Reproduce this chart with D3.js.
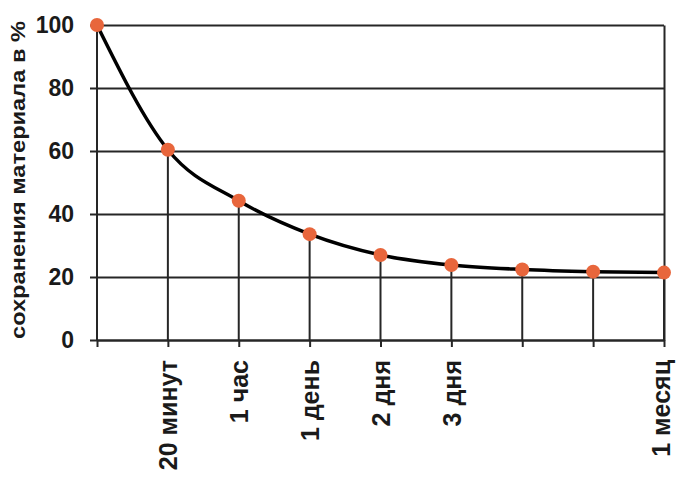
<!DOCTYPE html>
<html>
<head>
<meta charset="utf-8">
<script src="https://cdn.jsdelivr.net/npm/d3@7"></script>
<style>
  body { margin: 0; background: #fff; }
  svg { display: block; font-family: "Liberation Sans", Arial, sans-serif; }
</style>
</head>
<body>
<svg id="chart" width="677" height="480"></svg>
<script>
const categories = ["", "20 минут", "1 час", "1 день", "2 дня", "3 дня", "", "", "1 месяц"];
const retention = [100, 60.4, 44.2, 33.6, 27.0, 23.8, 22.4, 21.7, 21.4];
const yTicks = [0, 20, 40, 60, 80, 100];
const yLabel = "сохранения материала в %";

const svg = d3.select("#chart");
const mLeft = 97, mRight = 664, mTop = 25, mBottom = 340;

const x = d3.scaleLinear().domain([0, categories.length - 1]).range([mLeft, mRight]);
const y = d3.scaleLinear().domain([0, 100]).range([mBottom, mTop]);

const gridColor = "#262626";

// horizontal grid + y labels (axis anchored on right border)
const yAxis = svg.append("g")
  .attr("transform", `translate(${mRight},0)`)
  .call(d3.axisLeft(y).tickValues(yTicks).tickSize(mRight - mLeft + 7).tickSizeOuter(0).tickPadding(16));
yAxis.select(".domain").attr("stroke", gridColor).attr("stroke-width", 2);
yAxis.selectAll(".tick line").attr("stroke", gridColor).attr("stroke-width", 2);
yAxis.selectAll(".tick text")
  .attr("fill", "#1a1a1a")
  .style("font-size", "23px")
  .style("font-weight", "bold");

// x axis
const xAxis = svg.append("g")
  .attr("transform", `translate(0,${mBottom})`)
  .call(d3.axisBottom(x).tickValues(d3.range(categories.length)).tickFormat(i => categories[i]).tickSize(7).tickSizeOuter(0).tickPadding(10));
xAxis.select(".domain").attr("stroke", gridColor).attr("stroke-width", 2);
xAxis.selectAll(".tick line").attr("stroke", gridColor).attr("stroke-width", 2);
xAxis.selectAll(".tick text")
  .attr("fill", "#1a1a1a")
  .style("font-size", "25px")
  .style("font-weight", "bold")
  .attr("text-anchor", "end")
  .attr("dy", "0.36em")
  .attr("transform", "rotate(-90)")
  .attr("x", -20)
  .attr("y", (d, i) => i === categories.length - 1 ? -4 : 0);

// drop lines from points to axis
svg.append("g").selectAll("line")
  .data(retention)
  .join("line")
  .attr("x1", (d, i) => x(i)).attr("x2", (d, i) => x(i))
  .attr("y1", d => y(d)).attr("y2", mBottom)
  .attr("stroke", gridColor).attr("stroke-width", 2);

// curve
const line = d3.line()
  .x((d, i) => x(i))
  .y(d => y(d))
  .curve(d3.curveMonotoneX);
svg.append("path")
  .datum(retention)
  .attr("d", line)
  .attr("fill", "none")
  .attr("stroke", "#000")
  .attr("stroke-width", 3.5);

// points
svg.append("g").selectAll("circle")
  .data(retention)
  .join("circle")
  .attr("cx", (d, i) => x(i))
  .attr("cy", d => y(d))
  .attr("r", 7)
  .attr("fill", "#e8663c");

// y axis title
svg.append("text")
  .attr("transform", "translate(25,180) rotate(-90)")
  .attr("text-anchor", "middle")
  .attr("fill", "#1a1a1a")
  .style("font-size", "20px")
  .style("font-weight", "bold")
  .attr("textLength", 318)
  .attr("lengthAdjust", "spacingAndGlyphs")
  .text(yLabel);
</script>
</body>
</html>
